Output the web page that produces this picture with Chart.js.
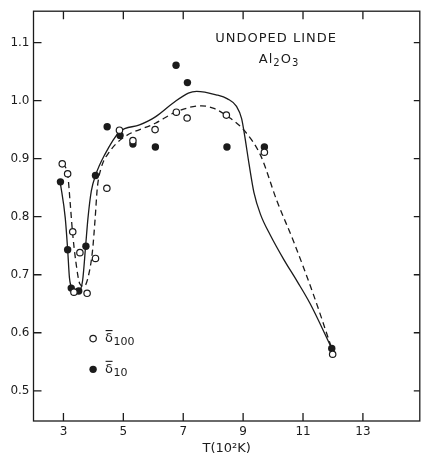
<!DOCTYPE html>
<html>
<head>
<meta charset="utf-8">
<script src="https://cdn.jsdelivr.net/npm/chart.js@4.4.1/dist/chart.umd.min.js"></script>
<style>
  html, body { margin: 0; padding: 0; background: #fff; }
  #wrap { width: 425px; height: 457px; }
</style>
</head>
<body>
<div id="wrap"><canvas id="chart" width="425" height="457"></canvas></div>
<script>
// temperature axis in units of 10^2 K, ticks and the δ̄ values
const xTicks = [3, 5, 7, 9, 11, 13];
const yTicks = [0.5, 0.6, 0.7, 0.8, 0.9, 1.0, 1.1];

// open circles: δ̄100 measurements [T, δ]
const delta100 = [
    [2.96, 0.891], [3.14, 0.874], [3.31, 0.774], [3.35, 0.670], [3.55, 0.738],
    [3.79, 0.668], [4.07, 0.728], [4.45, 0.849], [4.87, 0.949], [5.32, 0.931],
    [6.06, 0.950], [6.77, 0.980], [7.13, 0.970], [8.44, 0.975], [9.71, 0.911],
    [11.99, 0.563]
];

// filled circles: δ̄10 measurements [T, δ]
const delta10 = [
    [2.90, 0.860], [3.14, 0.743], [3.26, 0.677], [3.51, 0.672], [3.75, 0.749],
    [4.07, 0.871], [4.46, 0.955], [4.89, 0.940], [5.32, 0.925], [6.07, 0.920],
    [6.76, 1.061], [7.14, 1.031], [8.46, 0.920], [9.71, 0.920], [11.96, 0.573]
];

// hand-drawn trend through δ̄10 (solid)
const curve10 = [
    [2.89, 0.860], [3.06, 0.798], [3.14, 0.744], [3.20, 0.695], [3.30, 0.676],
    [3.49, 0.672], [3.64, 0.690], [3.74, 0.749], [3.82, 0.798], [3.93, 0.844],
    [4.07, 0.871], [4.37, 0.906], [4.87, 0.946], [5.54, 0.958], [6.07, 0.972],
    [6.64, 0.995], [7.17, 1.013], [7.45, 1.016], [8.10, 1.010], [8.48, 1.003],
    [8.78, 0.990], [8.95, 0.969], [9.05, 0.940], [9.20, 0.890], [9.36, 0.842],
    [9.58, 0.804], [9.91, 0.768], [10.35, 0.727], [10.80, 0.689], [11.24, 0.650],
    [11.96, 0.573]
];

// hand-drawn trend through δ̄100 (dashed)
const curve100 = [
    [2.96, 0.891], [3.14, 0.873], [3.22, 0.827], [3.30, 0.775], [3.41, 0.724],
    [3.55, 0.684], [3.69, 0.680], [3.82, 0.695], [3.97, 0.741], [4.06, 0.798],
    [4.13, 0.849], [4.26, 0.884], [4.54, 0.912], [4.97, 0.935], [6.07, 0.961],
    [6.78, 0.981], [7.61, 0.991], [8.05, 0.986], [8.59, 0.969], [9.03, 0.949],
    [9.58, 0.906], [10.13, 0.827], [10.68, 0.758], [11.34, 0.667], [11.96, 0.573]
];

// where the key sits, in data units
const legendAt = [[3.99, 0.590], [3.99, 0.537]];
const legendSubs = ['100', '10'];

const ink = '#1b1b1b';
const FONT = '"DejaVu Sans", sans-serif';

const toXY = arr => arr.map(p => ({ x: p[0], y: p[1] }));

// draws a run of [text, isSubscript] pieces from left to right
function drawRuns(ctx, runs, x, y, size) {
    let cx = x;
    runs.forEach(([txt, sub]) => {
        const fs = sub ? Math.round(size * 0.75) : size;
        ctx.font = fs + 'px ' + FONT;
        ctx.fillText(txt, cx, sub ? y + size * 0.3 : y);
        cx += ctx.measureText(txt).width;
    });
    return cx;
}

function runsWidth(ctx, runs, size) {
    let w = 0;
    runs.forEach(([txt, sub]) => {
        ctx.font = (sub ? Math.round(size * 0.75) : size) + 'px ' + FONT;
        w += ctx.measureText(txt).width;
    });
    return w;
}

const frameAndNotes = {
    id: 'frameAndNotes',
    afterDraw(chart) {
        const { ctx, chartArea: a, scales: { x, y } } = chart;
        ctx.save();
        ctx.strokeStyle = ink;
        ctx.fillStyle = ink;
        ctx.lineWidth = 1.3;
        ctx.strokeRect(a.left, a.top, a.right - a.left, a.bottom - a.top);

        // inward tick marks on all four sides
        ctx.beginPath();
        xTicks.forEach(v => {
            const px = x.getPixelForValue(v);
            ctx.moveTo(px, a.bottom); ctx.lineTo(px, a.bottom - 8);
            ctx.moveTo(px, a.top); ctx.lineTo(px, a.top + 8);
        });
        yTicks.forEach(v => {
            const py = y.getPixelForValue(v);
            ctx.moveTo(a.left, py); ctx.lineTo(a.left + 8, py);
            ctx.moveTo(a.right, py); ctx.lineTo(a.right - 6, py);
        });
        ctx.stroke();

        // sample label
        ctx.textBaseline = 'middle';
        ctx.textAlign = 'left';
        ctx.letterSpacing = '1px';
        ctx.font = '13px ' + FONT;
        const line1 = 'UNDOPED LINDE';
        const w1 = ctx.measureText(line1).width;
        ctx.fillText(line1, x.getPixelForValue(10.1) - w1 / 2, y.getPixelForValue(1.106));
        const formula = [['Al', false], ['2', true], ['O', false], ['3', true]];
        const w2 = runsWidth(ctx, formula, 13);
        drawRuns(ctx, formula, x.getPixelForValue(10.2) - w2 / 2, y.getPixelForValue(1.070), 13);
        ctx.letterSpacing = '0px';

        // key: open and filled markers with δ̄ labels
        legendAt.forEach((p, i) => {
            const px = x.getPixelForValue(p[0]);
            const py = y.getPixelForValue(p[1]);
            ctx.beginPath();
            ctx.arc(px, py, i === 0 ? 3.2 : 3.7, 0, Math.PI * 2);
            if (i === 0) {
                ctx.fillStyle = '#fff'; ctx.fill();
                ctx.lineWidth = 1.2; ctx.stroke();
                ctx.fillStyle = ink;
            } else {
                ctx.fill();
            }
            const tx = px + 12;
            ctx.font = '13px ' + FONT;
            ctx.fillText('δ', tx, py);
            const dw = ctx.measureText('δ').width;
            ctx.lineWidth = 1.1;
            ctx.beginPath();
            ctx.moveTo(tx + 0.5, py - 8); ctx.lineTo(tx + dw - 0.5, py - 8);
            ctx.stroke();
            ctx.font = '11px ' + FONT;
            ctx.fillText(legendSubs[i], tx + dw + 0.5, py + 4);
        });
        ctx.restore();
    }
};

document.addEventListener('DOMContentLoaded', () => {
    const canvas = document.getElementById('chart');

    new Chart(canvas, {
        type: 'scatter',
        data: {
            datasets: [
                {
                    label: 'δ̄100',
                    data: toXY(delta100),
                    pointRadius: 3.2,
                    pointBackgroundColor: '#fff',
                    pointBorderColor: ink,
                    pointBorderWidth: 1.2,
                    order: 1
                },
                {
                    label: 'δ̄10',
                    data: toXY(delta10),
                    pointRadius: 3.7,
                    pointBackgroundColor: ink,
                    pointBorderColor: ink,
                    pointBorderWidth: 0,
                    order: 1
                },
                {
                    label: 'δ̄10 trend',
                    data: toXY(curve10),
                    showLine: true,
                    cubicInterpolationMode: 'monotone',
                    borderColor: ink,
                    borderWidth: 1.3,
                    pointRadius: 0,
                    order: 3
                },
                {
                    label: 'δ̄100 trend',
                    data: toXY(curve100),
                    showLine: true,
                    cubicInterpolationMode: 'monotone',
                    borderColor: ink,
                    borderWidth: 1.3,
                    borderDash: [6, 4],
                    pointRadius: 0,
                    order: 3
                }
            ]
        },
        options: {
            responsive: false,
            animation: false,
            events: [],
            layout: { padding: { top: 9, right: 2, left: 0, bottom: 0 } },
            plugins: {
                legend: { display: false },
                tooltip: { enabled: false }
            },
            scales: {
                x: {
                    type: 'linear',
                    min: 2.0,
                    max: 14.9,
                    afterBuildTicks: s => { s.ticks = xTicks.map(v => ({ value: v })); },
                    afterFit: s => { s.height = 36; },
                    grid: { display: false, drawTicks: false },
                    border: { display: false },
                    ticks: {
                        color: ink,
                        padding: 4,
                        font: { family: FONT, size: 12 },
                        callback: v => String(v)
                    },
                    title: {
                        display: true,
                        text: 'T(10²K)',
                        color: ink,
                        font: { family: FONT, size: 13 },
                        padding: { top: 0, bottom: 1 }
                    }
                },
                y: {
                    type: 'linear',
                    min: 0.448,
                    max: 1.154,
                    afterBuildTicks: s => { s.ticks = yTicks.map(v => ({ value: v })); },
                    afterFit: s => { s.width = 33.5; },
                    grid: { display: false, drawTicks: false },
                    border: { display: false },
                    ticks: {
                        color: ink,
                        padding: 4,
                        font: { family: FONT, size: 12 },
                        callback: v => v.toFixed(1)
                    }
                }
            }
        },
        plugins: [frameAndNotes]
    });
});
</script>
</body>
</html>
